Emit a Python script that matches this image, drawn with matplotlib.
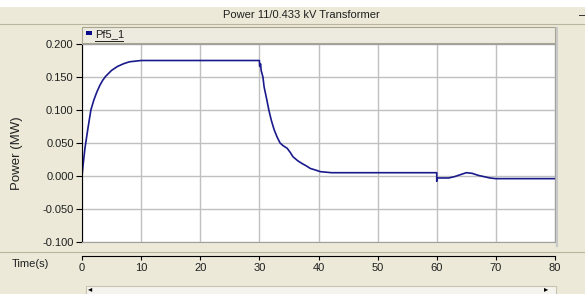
import matplotlib.pyplot as plt
from matplotlib.patches import Rectangle
from matplotlib.lines import Line2D

# Données
time_s = [0.0, 0.2, 0.5, 1.0, 1.5, 2.0, 2.5, 3.0, 3.5, 4.0, 5.0, 6.0, 7.0, 8.0, 9.0, 10.0,
          30.0, 30.05, 30.2, 30.3, 30.6, 30.8, 31.2, 31.6, 32.0, 32.5, 33.0, 33.5, 34.0,
          34.7, 35.2, 35.7, 36.5, 37.2, 38.0, 38.6, 39.5, 40.3, 42.2,
          60.0, 60.0, 60.1, 62.0, 63.0, 64.0, 65.0, 66.0, 67.0, 68.0, 69.0, 70.0, 80.0]
power_mw = [0.000, 0.018, 0.042, 0.072, 0.100, 0.115, 0.127, 0.137, 0.145, 0.151, 0.160,
            0.166, 0.170, 0.173, 0.174, 0.175,
            0.175, 0.166, 0.170, 0.160, 0.150, 0.135, 0.118, 0.100, 0.085, 0.070, 0.059,
            0.050, 0.046, 0.042, 0.036, 0.029, 0.023, 0.019, 0.015, 0.0115, 0.009, 0.0066,
            0.005,
            0.005, -0.008, -0.003, -0.003, -0.001, 0.002, 0.005, 0.004, 0.001, -0.001,
            -0.003, -0.004, -0.004]
y_ticks = [0.200, 0.150, 0.100, 0.050, 0.000, -0.050, -0.100]
x_ticks = [0, 10, 20, 30, 40, 50, 60, 70, 80]

W, H = 585, 294
bg = '#ECE9D8'
plt.rcParams['font.family'] = ['Liberation Sans', 'DejaVu Sans']

def fx(x):
    return x / W

def fy(y):
    return 1 - y / H

fig = plt.figure(figsize=(W / 100, H / 100), dpi=100, facecolor=bg)

# bandeau du titre
fig.patches.append(Rectangle((0, fy(7)), 1, 7 / H, transform=fig.transFigure,
                             facecolor='white', edgecolor='none'))
fig.lines.append(Line2D([0, 1], [fy(23.5)] * 2, transform=fig.transFigure,
                        color='#B8B4A0', lw=0.8))
fig.text(fx(301), fy(15), 'Power 11/0.433 kV Transformer', ha='center', va='center',
         fontsize=8, color='#202020')
fig.text(fx(582), fy(15), '\u2013', ha='center', va='center', fontsize=8)

# bande de légende
fig.patches.append(Rectangle((fx(82), fy(43)), (555 - 82) / W, 16 / H,
                             transform=fig.transFigure, facecolor='#EDEBDF',
                             edgecolor='#A8A490', lw=0.8))
fig.patches.append(Rectangle((fx(85.5), fy(35)), 6 / W, 4 / H, transform=fig.transFigure,
                             facecolor='#0A0A8C', edgecolor='none'))
fig.text(fx(95), fy(34), 'Pf5_1', ha='left', va='center', fontsize=8, color='#202020')
fig.lines.append(Line2D([fx(95), fx(123)], [fy(40.5)] * 2, transform=fig.transFigure,
                        color='#202020', lw=0.7))

# bande de droite
fig.lines.append(Line2D([fx(556.5)] * 2, [fy(28), fy(246)], transform=fig.transFigure,
                        color='#C8C8C8', lw=1.5))

ax = fig.add_axes([fx(82), fy(242), (555 - 82) / W, 198 / H])
ax.set_facecolor('white')
ax.plot(time_s, power_mw, color='#1A1A8C', lw=1.2)
ax.set_xlim(0, 80)
ax.set_ylim(-0.1, 0.2)
ax.set_xticks(x_ticks)
ax.set_yticks(y_ticks)
ax.set_yticklabels([f'{v:.3f}' for v in y_ticks], fontsize=8, color='#202020')
ax.tick_params(axis='x', length=0, labelbottom=False)
ax.tick_params(axis='y', direction='out', length=4, width=0.8, pad=2)
ax.grid(True, color='#C0C0C0', lw=1)
for s in ['top', 'right', 'bottom']:
    ax.spines[s].set_color('#A0A0A0')
ax.spines['left'].set_color('black')
fig.text(fx(17), fy(153), 'Power (MW)', rotation=90, ha='center', va='center',
         fontsize=9.5, color='#202020')

# axe du temps séparé
fig.lines.append(Line2D([0, 1], [fy(251.5)] * 2, transform=fig.transFigure,
                        color='#B8B4A0', lw=0.8))
sec = ax.secondary_xaxis(-0.07)
sec.set_xticks(x_ticks)
sec.set_xticklabels([str(v) for v in x_ticks], fontsize=8, color='#202020')
sec.tick_params(direction='out', length=3, width=0.8, pad=2)
fig.text(fx(12), fy(264), 'Time(s)', ha='left', va='center', fontsize=8, color='#202020')

# barre de défilement
fig.patches.append(Rectangle((fx(86), fy(296)), (556 - 86) / W, 10 / H,
                             transform=fig.transFigure, facecolor='#F4F3EE',
                             edgecolor='#C8C4B0', lw=0.8))
fig.text(fx(90), fy(290), '\u25c2', ha='center', va='center', fontsize=6)
fig.text(fx(546), fy(290), '\u25b8', ha='center', va='center', fontsize=6)

fig.savefig('out.png', dpi=100, facecolor=bg)
